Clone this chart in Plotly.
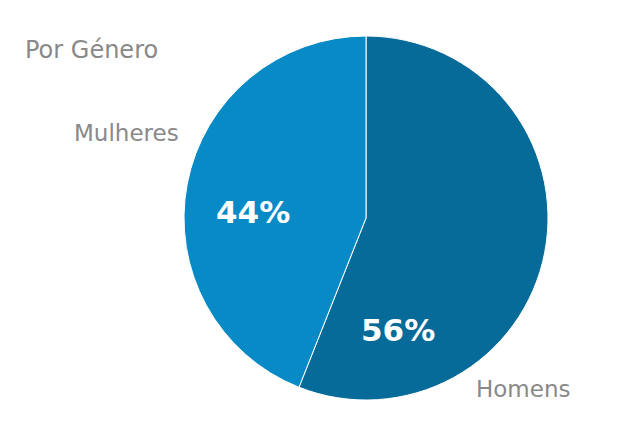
import math
import plotly.graph_objects as go

categories = ["Homens", "Mulheres"]
values = [56, 44]
colors = ["#066b98", "#078ac6"]
title_text = "Por Género"

W, H = 620, 425
cx, cy, r = 366, 218, 182

fig = go.Figure(go.Pie(
    labels=categories,
    values=values,
    sort=False,
    direction="clockwise",
    rotation=0,
    marker=dict(colors=colors, line=dict(color="white", width=1)),
    textinfo="none",
    hoverinfo="label+percent",
    showlegend=False,
    domain=dict(x=[(cx - r) / W, (cx + r) / W], y=[1 - (cy + r) / H, 1 - (cy - r) / H]),
))

total = sum(values)
# percent label positions (angle clockwise from top in degrees, radius fraction)
pct_pos = {"Homens": (164, 0.64), "Mulheres": (273, 0.62)}
cat_label_pos = {"Homens": (523, 389), "Mulheres": (126, 133)}

annotations = []
for cat, v in zip(categories, values):
    ang, rf = pct_pos[cat]
    a = math.radians(ang)
    px = cx + math.sin(a) * r * rf
    py = cy - math.cos(a) * r * rf
    annotations.append(dict(
        x=px / W, y=1 - py / H, xref="paper", yref="paper",
        text=f"{round(100 * v / total)}%", showarrow=False,
        font=dict(family="DejaVu Sans", size=31, color="white", weight="bold"),
        xanchor="center", yanchor="middle",
    ))
    lx, ly = cat_label_pos[cat]
    annotations.append(dict(
        x=lx / W, y=1 - ly / H, xref="paper", yref="paper",
        text=cat, showarrow=False,
        font=dict(family="DejaVu Sans", size=23, color="#898989"),
        xanchor="center", yanchor="middle",
    ))

annotations.append(dict(
    x=23 / W, y=1 - 50 / H, xref="paper", yref="paper",
    text=title_text, showarrow=False,
    font=dict(family="DejaVu Sans", size=24, color="#898989"),
    xanchor="left", yanchor="middle",
))

fig.update_layout(
    width=W, height=H,
    margin=dict(l=0, r=0, t=0, b=0),
    paper_bgcolor="white", plot_bgcolor="white",
    annotations=annotations,
)

fig.write_html("out.html", config={"displayModeBar": False},
               post_script="document.body.style.margin='0';")
